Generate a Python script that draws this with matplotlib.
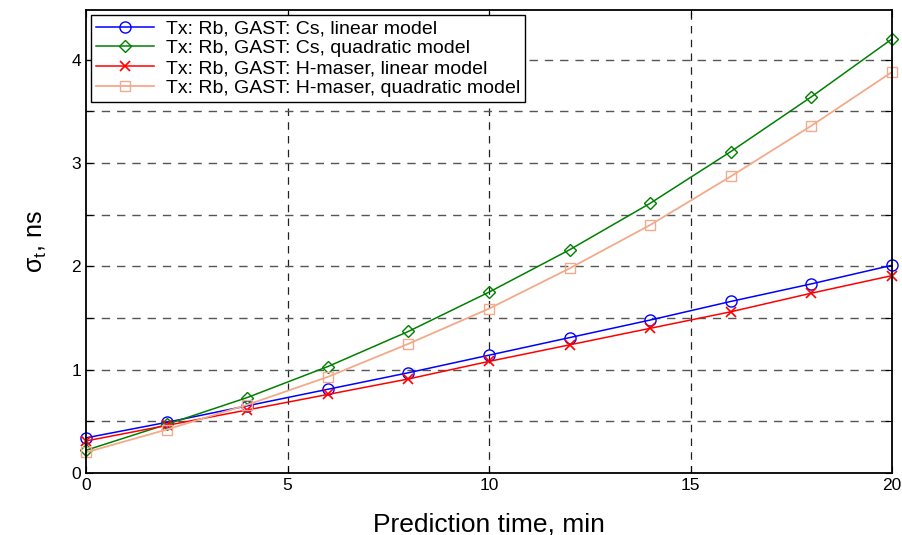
import matplotlib
matplotlib.use('Agg')
import matplotlib.pyplot as plt

# prediction time (min)
t = [0, 2, 4, 6, 8, 10, 12, 14, 16, 18, 20]

# sigma_t in ns
cs_lin = [0.34, 0.49, 0.65, 0.81, 0.97, 1.14, 1.31, 1.48, 1.66, 1.83, 2.01]
cs_quad = [0.22, 0.47, 0.73, 1.03, 1.37, 1.75, 2.16, 2.61, 3.11, 3.64, 4.20]
hm_lin = [0.31, 0.46, 0.61, 0.76, 0.91, 1.08, 1.24, 1.40, 1.56, 1.74, 1.91]
hm_quad = [0.20, 0.42, 0.66, 0.93, 1.25, 1.59, 1.98, 2.40, 2.87, 3.36, 3.88]

labels = ['Tx: Rb, GAST: Cs, linear model',
          'Tx: Rb, GAST: Cs, quadratic model',
          'Tx: Rb, GAST: H-maser, linear model',
          'Tx: Rb, GAST: H-maser, quadratic model']

xticks = [0, 5, 10, 15, 20]
yticks = [0, 0.5, 1, 1.5, 2, 2.5, 3, 3.5, 4]
yticklabels = ['0', '', '1', '', '2', '', '3', '', '4']

plt.rcParams['font.family'] = ['Liberation Sans', 'DejaVu Sans']

fig = plt.figure(figsize=(9.03, 5.35), dpi=100)
ax = fig.add_axes([86/903, 1-473/535, (892-86)/903, (473-10)/535])

ax.plot(t, cs_lin, color='#0000ff', marker='o', mfc='none', ms=8, lw=1.1, label=labels[0], clip_on=False)
ax.plot(t, cs_quad, color='#008000', marker='D', mfc='none', ms=6, lw=1.1, label=labels[1], clip_on=False)
ax.plot(t, hm_lin, color='#ff0000', marker='x', ms=7, mew=1.2, lw=1.1, label=labels[2], clip_on=False)
ax.plot(t, hm_quad, color='#f2aa8a', marker='s', mfc='none', ms=7, lw=1.3, label=labels[3], clip_on=False)

ax.set_xlim(0, 20)
ax.set_ylim(0, 4.48)
ax.set_xticks(xticks)
ax.set_yticks(yticks)
ax.set_yticklabels(yticklabels)
ax.tick_params(direction='in', top=True, right=True, labelsize=12.5, length=5, width=0.8)

for x in xticks[1:-1]:
    ax.axvline(x, color='#222222', ls=(0, (6, 5)), lw=0.9, zorder=0)
for y in yticks[1:]:
    ax.axhline(y, color='#555555', ls=(0, (6, 5)), lw=1.0, zorder=0)

for s in ax.spines.values():
    s.set_linewidth(1.3)

ax.set_xlabel('Prediction time, min', fontsize=19, labelpad=14)
ax.set_ylabel(r'σ$_\mathregular{t}$, ns', fontsize=18, labelpad=16)

leg = ax.legend(loc='upper left', fontsize=14, fancybox=False, framealpha=1,
                edgecolor='black', borderpad=0.25, labelspacing=0.12,
                handlelength=3.0, handletextpad=0.6, borderaxespad=0.25)
leg.get_frame().set_linewidth(1.0)

fig.savefig('out.png', dpi=100)
